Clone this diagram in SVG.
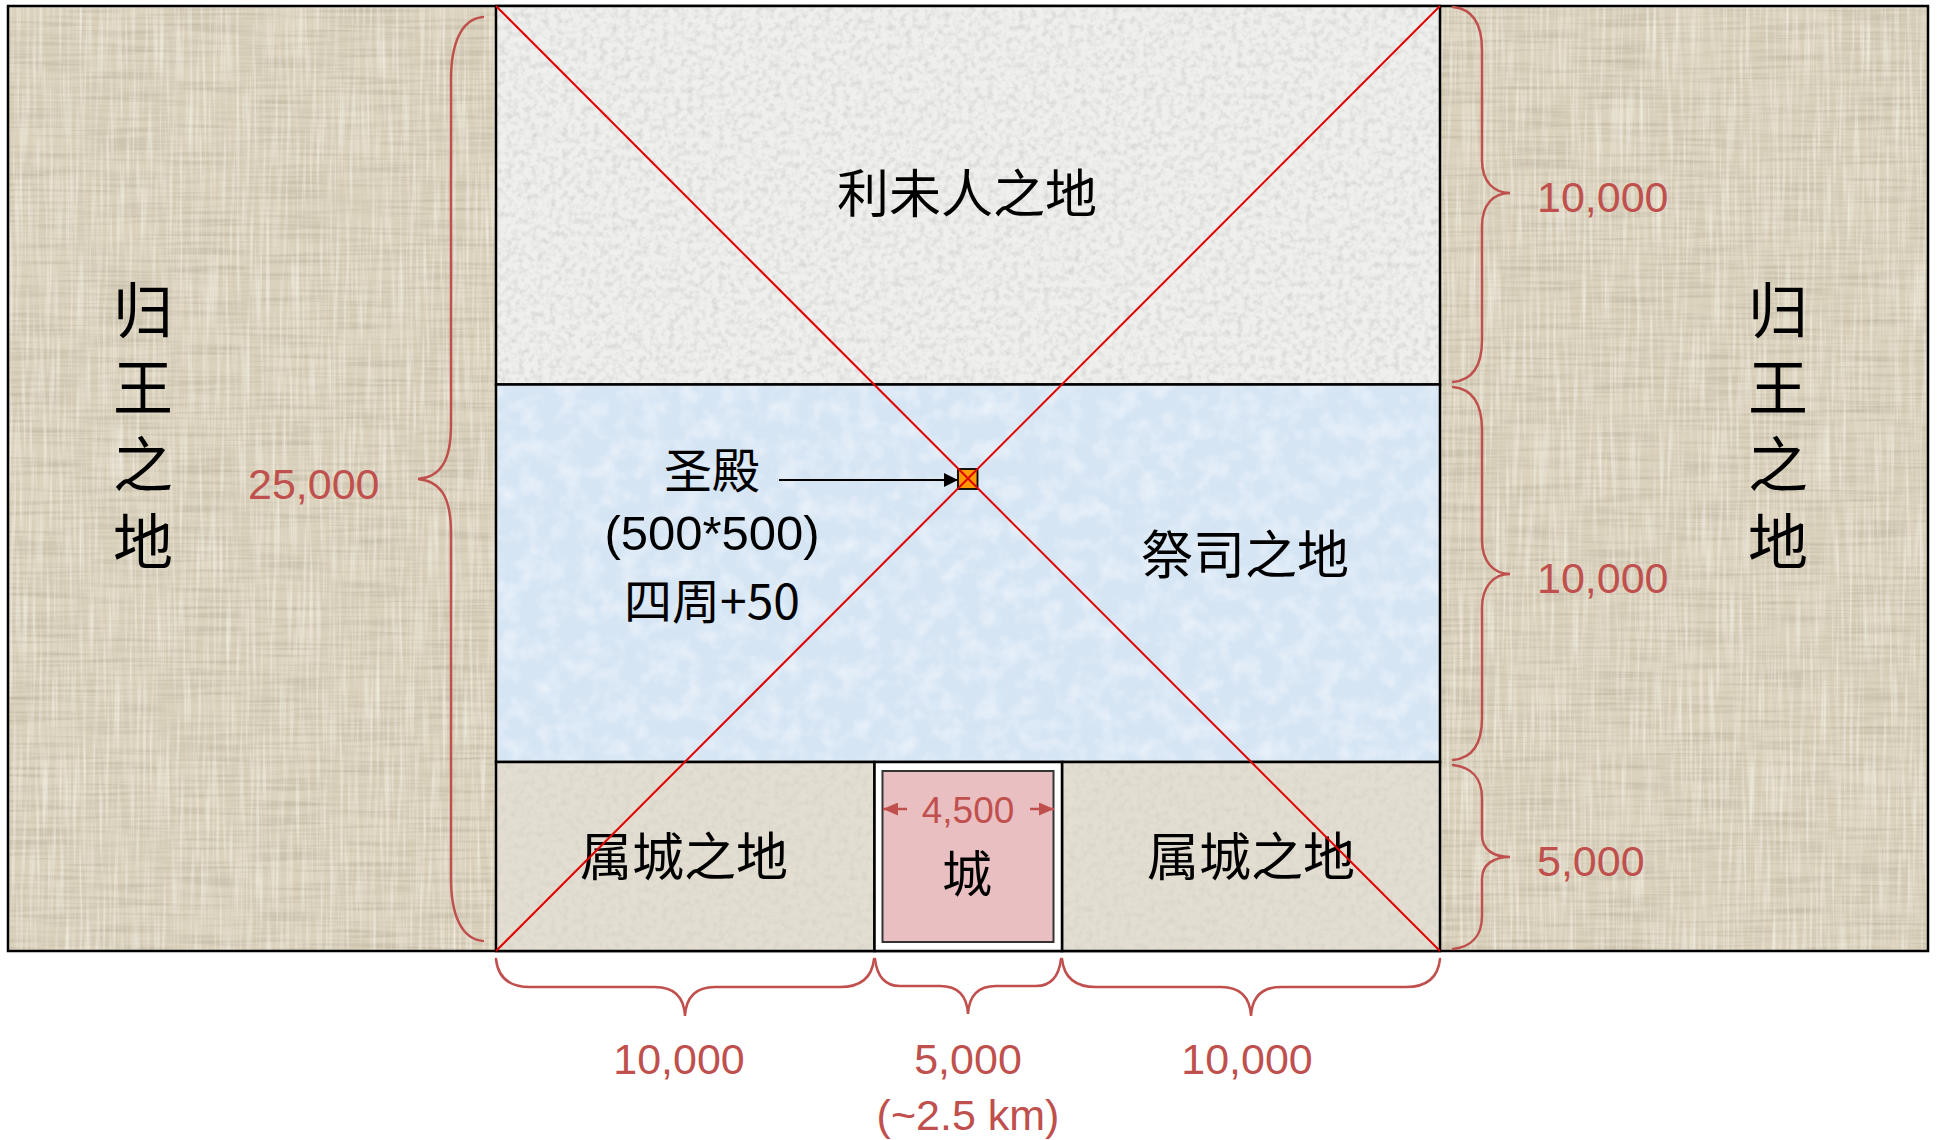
<svg xmlns="http://www.w3.org/2000/svg" width="1940" height="1140" viewBox="0 0 1940 1140">
<defs>
<style>
.cjk{font-family:"Noto Sans CJK SC","Noto Sans",sans-serif;fill:#000;text-anchor:middle}
.lat{font-family:"Liberation Sans",Arial,sans-serif;fill:#000;text-anchor:middle}
.vert{font-family:"Noto Sans CJK SC","Noto Sans",sans-serif;fill:#000;font-size:60px;writing-mode:vertical-rl;letter-spacing:17px}
.num{font-family:"Liberation Sans",Arial,sans-serif;fill:#c0504d;font-size:43px}
.mid{text-anchor:middle}
.brace{fill:none;stroke:#c0504d;stroke-width:2.5;stroke-linecap:round}
.diag{stroke:#e00000;stroke-width:2}
.box{stroke:#000;stroke-width:2.5}
</style>
<filter id="linenH" x="0" y="0" width="1" height="1">
<feTurbulence type="fractalNoise" baseFrequency="0.012 0.3" numOctaves="2" seed="4"/>
<feColorMatrix type="matrix" values="0 0 0 0 0.45  0 0 0 0 0.40  0 0 0 0 0.30  1.2 0 0 0 -0.5"/>
</filter>
<filter id="linenV" x="0" y="0" width="1" height="1">
<feTurbulence type="fractalNoise" baseFrequency="0.3 0.012" numOctaves="2" seed="9"/>
<feColorMatrix type="matrix" values="0 0 0 0 1  0 0 0 0 1  0 0 0 0 0.95  1.2 0 0 0 -0.52"/>
</filter>
<filter id="grain" x="0" y="0" width="1" height="1">
<feTurbulence type="fractalNoise" baseFrequency="0.16" numOctaves="3" seed="2"/>
<feColorMatrix type="matrix" values="0 0 0 0 0.5  0 0 0 0 0.5  0 0 0 0 0.5  1.0 0 0 0 -0.42"/>
</filter>
<filter id="grainB" x="0" y="0" width="1" height="1">
<feTurbulence type="fractalNoise" baseFrequency="0.05" numOctaves="3" seed="5"/>
<feColorMatrix type="matrix" values="0 0 0 0 1  0 0 0 0 1  0 0 0 0 1  1.0 0 0 0 -0.42"/>
</filter>
<marker id="ahK" viewBox="0 0 14 14" refX="14" refY="7" markerWidth="14" markerHeight="14" markerUnits="userSpaceOnUse" orient="auto">
<path d="M0,0 L14,7 L0,14 z" fill="#000"/>
</marker>
<marker id="ahR" viewBox="0 0 15 13" refX="15" refY="6.5" markerWidth="15" markerHeight="13" markerUnits="userSpaceOnUse" orient="auto">
<path d="M0,0 L15,6.5 L0,13 z" fill="#c0504d"/>
</marker>
</defs>
<rect x="0" y="0" width="1940" height="1140" fill="#ffffff"/>

<g id="kingland">
<rect x="8" y="6" width="1920" height="945" fill="#dbd2bd"/>
<rect x="8" y="6" width="1920" height="945" fill="#000" filter="url(#linenH)"/>
<rect x="8" y="6" width="1920" height="945" fill="#000" filter="url(#linenV)"/>
<rect x="8" y="6" width="1920" height="945" fill="none" class="box"/>
<text class="vert" x="143" y="280">归王之地</text>
<text class="vert" x="1778" y="280">归王之地</text>
</g>

<g id="levites">
<rect x="496" y="6" width="944" height="378.5" fill="#efefed"/>
<rect x="496" y="6" width="944" height="378.5" fill="#000" filter="url(#grain)"/>
<rect x="496" y="6" width="944" height="378.5" fill="none" class="box"/>
<text class="cjk" x="967" y="213" style="font-size:52px">利未人之地</text>
</g>

<g id="priests">
<rect x="496" y="384.5" width="944" height="377.5" fill="#d6e5f4"/>
<rect x="496" y="384.5" width="944" height="377.5" fill="#000" filter="url(#grainB)"/>
<rect x="496" y="384.5" width="944" height="377.5" fill="none" class="box"/>
<text class="cjk" x="1245" y="574" style="font-size:52px">祭司之地</text>
</g>

<g id="suburb-left">
<rect x="496" y="762" width="378.5" height="189" fill="#e3ded1"/>
<rect x="496" y="762" width="378.5" height="189" fill="#000" filter="url(#grain)" opacity="0.6"/>
<rect x="496" y="762" width="378.5" height="189" fill="none" class="box"/>
<text class="cjk" x="684" y="876" style="font-size:52px">属城之地</text>
</g>

<g id="suburb-right">
<rect x="1062" y="762" width="378" height="189" fill="#e3ded1"/>
<rect x="1062" y="762" width="378" height="189" fill="#000" filter="url(#grain)" opacity="0.6"/>
<rect x="1062" y="762" width="378" height="189" fill="none" class="box"/>
<text class="cjk" x="1251" y="876" style="font-size:52px">属城之地</text>
</g>

<g id="city">
<rect x="874.5" y="762" width="187.5" height="189" fill="#ffffff" class="box"/>
<rect x="882.5" y="771" width="171" height="171" fill="#e9bfc2" stroke="#333" stroke-width="2"/>
<text class="num mid" x="968" y="823" style="font-size:37px">4,500</text>
<text class="cjk" x="967" y="892" style="font-size:50px">城</text>
</g>

<g id="sanctuary-label">
<text class="cjk" x="712" y="488" style="font-size:48px">圣殿</text>
<text class="lat" x="712" y="550" style="font-size:49px">(500*500)</text>
<text class="cjk" x="712" y="619" style="font-size:48px">四周+50</text>
</g>

<g id="sanctuary">
<rect x="958" y="469" width="19.5" height="20" fill="#ff9900" stroke="#000" stroke-width="1.8"/>
</g>

<g id="connectors">
<line class="diag" x1="496" y1="6" x2="1440" y2="951"/>
<line class="diag" x1="1440" y1="6" x2="496" y2="951"/>
<line x1="779" y1="480" x2="958" y2="480" stroke="#000" stroke-width="2.2" marker-end="url(#ahK)"/>
<line x1="907" y1="809" x2="883" y2="809" stroke="#c0504d" stroke-width="2.5" marker-end="url(#ahR)"/>
<line x1="1030" y1="809" x2="1054" y2="809" stroke="#c0504d" stroke-width="2.5" marker-end="url(#ahR)"/>

<path class="brace" d="M483,17 C462,19 451,42 451,80 L451,425 C451,462 440,477 418,479 C440,481 451,496 451,533 L451,878 C451,916 462,939 483,941"/>

<path class="brace" d="M1453,7 C1473,9 1482,25 1482,50 L1482,160 C1482,182 1494,193 1510,193 C1494,193 1482,204 1482,226 L1482,340 C1482,365 1473,380 1453,382"/>
<path class="brace" d="M1453,387 C1473,389 1482,405 1482,430 L1482,540 C1482,562 1494,574 1510,574 C1494,574 1482,586 1482,608 L1482,718 C1482,743 1473,758 1453,760"/>
<path class="brace" d="M1453,765 C1471,767 1482,778 1482,798 L1482,835 C1482,850 1494,857 1510,857 C1494,857 1482,864 1482,879 L1482,916 C1482,936 1471,947 1453,949"/>

<path class="brace" d="M496,959 C498,978 510,987 530,987 L655,987 C675,987 684,998 685,1016 C686,998 695,987 715,987 L840,987 C860,987 872,978 874,959"/>
<path class="brace" d="M875,959 C877,976 884,986 900,986 L940,986 C958,986 967,996 968,1014 C969,996 978,986 996,986 L1036,986 C1052,986 1059,976 1061,959"/>
<path class="brace" d="M1062,959 C1064,978 1076,987 1096,987 L1221,987 C1241,987 1250,998 1251,1016 C1252,998 1261,987 1281,987 L1406,987 C1426,987 1438,978 1440,959"/>
</g>

<g id="dimensions">
<text class="num" x="248" y="499">25,000</text>
<text class="num" x="1537" y="212">10,000</text>
<text class="num" x="1537" y="593">10,000</text>
<text class="num" x="1537" y="876">5,000</text>
<text class="num mid" x="679" y="1074">10,000</text>
<text class="num mid" x="968" y="1074">5,000</text>
<text class="num mid" x="968" y="1130">(~2.5 km)</text>
<text class="num mid" x="1247" y="1074">10,000</text>
</g>
</svg>
